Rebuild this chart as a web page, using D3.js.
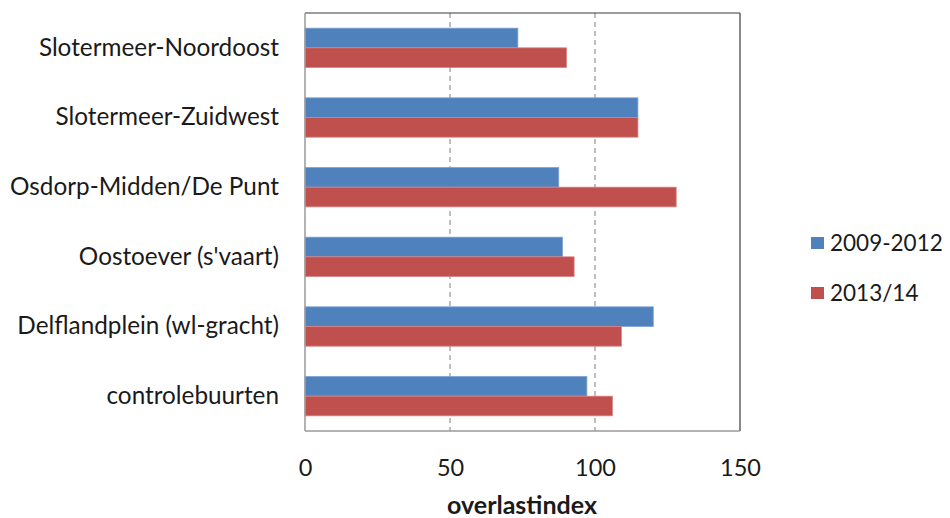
<!DOCTYPE html>
<html>
<head>
<meta charset="utf-8">
<script src="https://cdn.jsdelivr.net/npm/d3@7"></script>
<style>
  html, body { margin: 0; padding: 0; background: #fff; }
  svg { display: block; }
  text { font-family: Lato, "Open Sans", sans-serif; fill: #1a1a1a; }
</style>
</head>
<body>
<svg id="chart" width="950" height="518"></svg>
<script>
// Neighbourhoods, top to bottom
const categories = [
  "Slotermeer-Noordoost",
  "Slotermeer-Zuidwest",
  "Osdorp-Midden/De Punt",
  "Oostoever (s'vaart)",
  "Delflandplein (wl-gracht)",
  "controlebuurten"
];
const seriesNames = ["2009-2012", "2013/14"];
const values2009_2012 = [73.4, 114.8, 87.5, 88.8, 120.1, 97.2];
const values2013_14 = [90.2, 114.8, 128.0, 92.8, 109.1, 106.0];
const xTicks = [0, 50, 100, 150];
const colors = ["#4F81BD", "#C0504D"];
const strokes = ["#7FA3D3", "#D88482"];

const svg = d3.select("#chart");
const plot = { left: 305, right: 740, top: 13, bottom: 431 };

const x = d3.scaleLinear().domain([0, 150]).range([plot.left, plot.right]);
const y = d3.scaleBand().domain(categories).range([plot.top, plot.bottom])
  .paddingInner(0.435).paddingOuter(0.2175);
const ySub = d3.scaleBand().domain(seriesNames).range([0, y.bandwidth()]);

const series = [values2009_2012, values2013_14];

// dashed gridlines at interior ticks
svg.append("g").selectAll("line")
  .data(xTicks.filter(t => t > 0 && t < 150))
  .join("line")
  .attr("x1", d => x(d)).attr("x2", d => x(d))
  .attr("y1", plot.top).attr("y2", plot.bottom)
  .attr("stroke", "#7f7f7f").attr("stroke-width", 1)
  .attr("stroke-dasharray", "5,4");

// bars
series.forEach((vals, si) => {
  svg.append("g").selectAll("rect")
    .data(categories.map((c, i) => ({ c, v: vals[i] })))
    .join("rect")
    .attr("x", x(0))
    .attr("y", d => y(d.c) + ySub(seriesNames[si]))
    .attr("width", d => x(d.v) - x(0))
    .attr("height", ySub.bandwidth())
    .attr("fill", colors[si])
    .attr("stroke", strokes[si])
    .attr("stroke-width", 0.8);
});

// plot frame
svg.append("line").attr("x1", plot.left).attr("x2", plot.right)
  .attr("y1", plot.top).attr("y2", plot.top).attr("stroke", "#3a3a3a").attr("stroke-width", 1.2);
svg.append("line").attr("x1", plot.right).attr("x2", plot.right)
  .attr("y1", plot.top).attr("y2", plot.bottom).attr("stroke", "#3a3a3a").attr("stroke-width", 1.2);
svg.append("line").attr("x1", plot.left).attr("x2", plot.left)
  .attr("y1", plot.top).attr("y2", plot.bottom).attr("stroke", "#9a9a9a").attr("stroke-width", 1.5);
svg.append("line").attr("x1", plot.left).attr("x2", plot.right)
  .attr("y1", plot.bottom).attr("y2", plot.bottom).attr("stroke", "#9a9a9a").attr("stroke-width", 1.5);

// x axis labels
const xAxis = d3.axisBottom(x).tickValues(xTicks).tickSize(0).tickPadding(28);
const gx = svg.append("g").attr("transform", `translate(0,${plot.bottom})`).call(xAxis);
gx.select(".domain").remove();
gx.selectAll("text").attr("font-size", 23.5).attr("font-family", "Lato, 'Open Sans', sans-serif").attr("fill", "#1a1a1a");

// y axis labels
const yAxis = d3.axisLeft(y).tickSize(0).tickPadding(26);
const gy = svg.append("g").attr("transform", `translate(${plot.left},0)`).call(yAxis);
gy.select(".domain").remove();
gy.selectAll("text").attr("font-size", 24.3).attr("font-family", "Lato, 'Open Sans', sans-serif").attr("fill", "#1a1a1a");

// axis title
svg.append("text").attr("x", 522).attr("y", 514)
  .attr("text-anchor", "middle").attr("font-size", 25).attr("font-weight", "bold")
  .text("overlastindex");

// legend
const legend = svg.append("g");
seriesNames.forEach((name, i) => {
  const ly = 243 + i * 50;
  legend.append("rect").attr("x", 811).attr("y", ly - 6).attr("width", 13).attr("height", 12)
    .attr("fill", colors[i]);
  legend.append("text").attr("x", 830).attr("y", ly + 8).attr("font-size", 22.5).text(name);
});
</script>
</body>
</html>
